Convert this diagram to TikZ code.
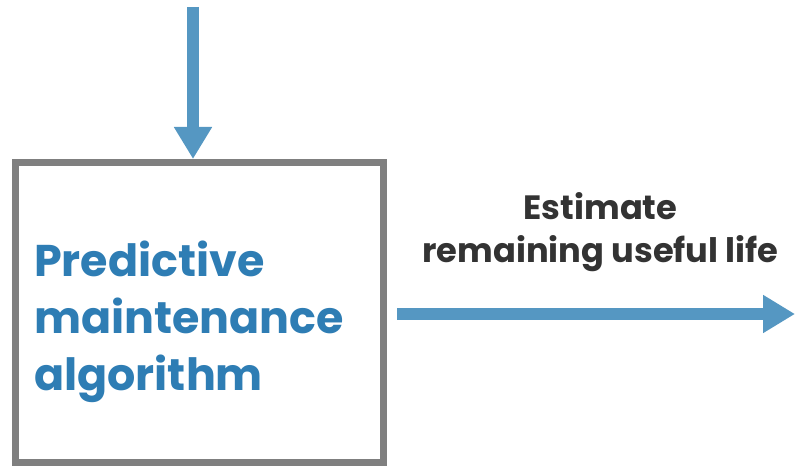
\documentclass[tikz,border=0pt]{standalone}
\usepackage{fontspec}
\setmainfont{Poppins}
\usetikzlibrary{arrows.meta}
\definecolor{arrowblue}{HTML}{5597C2}
\definecolor{titleblue}{HTML}{2E7DB4}
\definecolor{boxgray}{HTML}{7F7F7F}
\definecolor{labeldark}{HTML}{333333}
\tikzset{
  flowarrow/.style={draw=arrowblue, line width=12pt,
    -{Triangle[width=36pt,length=32pt]}, arrowblue},
  blockbox/.style={draw=boxgray, line width=7pt, fill=white,
    minimum width=368pt, minimum height=300pt, inner sep=0pt},
  blocktext/.style={text=titleblue, align=left, inner sep=0pt,
    font=\fontsize{44.4}{57}\selectfont\bfseries},
  arrowlabel/.style={text=labeldark, align=center, inner sep=0pt,
    font=\fontsize{33.7}{43}\selectfont\bfseries}
}
\begin{document}
\begin{tikzpicture}[x=1pt,y=1pt]
\useasboundingbox (0,0) rectangle (795,466);
% processing block
\node[blockbox, anchor=north west] (pm) at (12,307) {};
\node[blocktext, anchor=north west] (pmtext) at (34,225)
  {Predictive\\maintenance\\algorithm};
% input arrow from above
\coordinate (in) at (193,459);
\draw[flowarrow] (in) -- (in |- pm.north);
% output arrow and its label
\coordinate (outstart) at ([xshift=10pt,yshift=-1.5pt]pm.east);
\coordinate (out) at (795,152);
\draw[flowarrow] (outstart) -- (out |- outstart);
\node[arrowlabel] (lbl) at (600.5,233.5)
  {Estimate\\remaining useful life};
\end{tikzpicture}
\end{document}
